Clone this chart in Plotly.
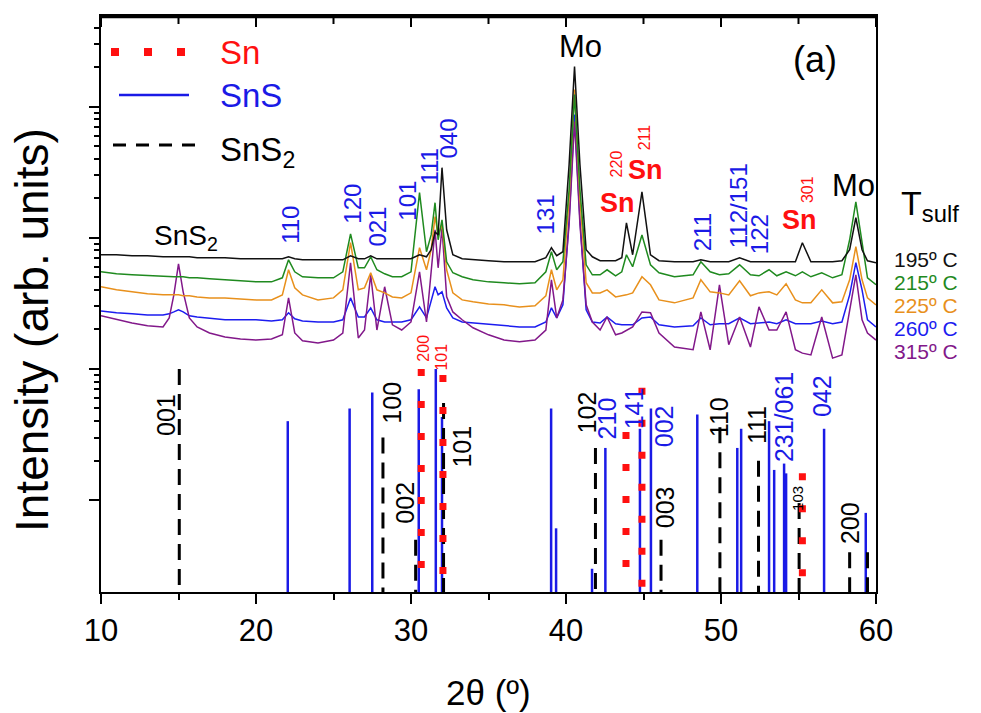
import plotly.graph_objects as go

# ---------------- data ----------------
theta = [10, 11, 12, 13, 14, 14.4, 14.7, 15.0, 15.3, 15.7,
         16.2, 17, 18, 19, 20, 21, 21.7, 22.1, 22.5, 23,
         24, 25, 25.6, 26.1, 26.6, 27.0, 27.4, 27.8, 28.3, 28.8,
         29.4, 30.0, 30.55, 31.0, 31.3, 31.55, 31.75, 32.0, 32.3, 32.7,
         33.3, 34.0, 35, 36, 37, 38, 38.7, 39.06, 39.4, 39.8,
         40.2, 40.55, 40.9, 41.3, 41.7, 42.2, 42.65, 43.2, 43.6, 43.9,
         44.3, 44.9, 45.45, 46.0, 47, 48.2, 48.7, 49.3, 49.9, 50.5,
         51.2, 51.9, 52.45, 53.1, 53.6, 54.2, 54.8, 55.25, 55.8, 56.5,
         57.2, 57.8, 58.3, 58.7, 59.1, 59.45, 60]

I_195 = [74.2, 74.2, 72.9, 72.9, 71.6, 71.6, 71.6, 71.6, 71.6, 71.6,
         70.4, 70.4, 70.4, 69.1, 69.1, 69.1, 69.1, 71.6, 69.1, 67.9,
         67.9, 67.9, 67.9, 72.9, 69.1, 69.1, 72.9, 69.1, 69.1, 69.1,
         69.1, 69.1, 74.2, 71.6, 81.0, 111, 105, 342, 115, 74.2,
         69.1, 67.9, 66.8, 65.6, 65.6, 65.6, 70.4, 83.9, 72.9, 78.2,
         361, 2020, 361, 81.0, 71.6, 66.8, 66.8, 66.8, 70.4, 130,
         74.2, 224, 74.2, 66.8, 65.6, 65.6, 67.9, 65.6, 65.6, 65.6,
         70.4, 65.6, 65.6, 65.6, 65.6, 65.6, 65.6, 91.6, 65.6, 65.6,
         65.6, 66.8, 81.0, 142, 81.0, 66.8, 64.5]

I_215 = [55.0, 53.1, 52.2, 51.3, 50.4, 50.4, 50.4, 50.4, 50.4, 49.5,
         49.5, 48.6, 47.8, 47.0, 46.1, 46.1, 49.5, 67.9, 55.0, 50.4,
         49.5, 49.5, 55.0, 107, 59.0, 59.0, 71.6, 57.0, 53.1, 50.4,
         50.4, 55.0, 221, 78.2, 105, 185, 96.5, 137, 65.6, 54.1,
         50.4, 47.8, 46.1, 45.4, 44.6, 45.4, 55.0, 78.2, 57.0, 65.6,
         232, 1235, 232, 62.2, 52.2, 52.2, 57.0, 51.3, 55.0, 74.2,
         60.1, 105, 62.2, 54.1, 50.4, 52.2, 65.6, 55.0, 52.2, 53.1,
         62.2, 52.2, 51.3, 57.0, 51.3, 55.0, 51.3, 55.0, 50.4, 54.1,
         49.5, 52.2, 96.5, 188, 88.4, 49.5, 43.8]

I_225 = [42.3, 40.1, 38.7, 37.4, 36.7, 36.7, 36.7, 36.7, 36.1, 36.1,
         35.4, 34.8, 34.8, 34.2, 33.6, 33.6, 36.7, 57.0, 41.5, 36.7,
         33.6, 34.8, 40.1, 91.6, 40.1, 41.5, 54.1, 40.1, 38.0, 35.4,
         34.8, 38.0, 83.9, 57.0, 81.0, 145, 105, 126, 57.0, 38.0,
         33.6, 32.5, 31.3, 30.8, 29.7, 30.3, 36.1, 57.0, 40.1, 47.8,
         195, 1348, 195, 45.4, 38.0, 38.0, 40.1, 35.4, 36.1, 36.7,
         38.0, 50.4, 43.8, 33.6, 31.9, 34.8, 47.8, 38.7, 38.0, 36.7,
         47.0, 36.1, 38.0, 38.7, 36.7, 44.6, 33.6, 31.9, 31.9, 40.1,
         31.9, 32.5, 47.8, 85.4, 47.8, 34.8, 30.8]

I_260 = [27.7, 26.8, 26.3, 25.8, 25.8, 26.3, 27.2, 28.2, 27.2, 25.4,
         24.9, 24.5, 23.7, 23.7, 23.7, 23.2, 23.7, 26.8, 24.1, 23.2,
         22.8, 22.8, 23.7, 34.8, 24.9, 24.9, 29.2, 23.7, 22.8, 22.8,
         22.8, 23.7, 29.7, 24.5, 33.6, 42.3, 36.7, 38.7, 29.2, 24.5,
         22.8, 22.4, 21.7, 21.3, 20.9, 20.9, 22.8, 29.2, 24.5, 30.8,
         137, 869, 137, 28.2, 22.8, 22.4, 24.9, 22.1, 21.7, 21.7,
         21.7, 24.5, 24.9, 21.7, 20.9, 21.3, 24.5, 21.7, 22.1, 22.1,
         24.5, 22.1, 22.4, 22.8, 22.1, 23.7, 22.1, 22.1, 22.1, 23.2,
         22.1, 22.8, 36.7, 64.5, 40.1, 23.7, 20.9]

I_315 = [25.4, 23.7, 22.4, 21.3, 20.9, 24.5, 36.7, 63.3, 38.7, 24.5,
         20.9, 18.8, 17.5, 16.9, 16.6, 16.9, 18.2, 34.8, 18.8, 16.4,
         15.8, 16.6, 18.8, 64.5, 17.2, 19.8, 52.2, 19.8, 42.3, 21.7,
         19.8, 22.8, 55.0, 22.8, 57.0, 115, 59.0, 119, 35.4, 27.2,
         23.7, 20.6, 18.2, 16.6, 16.1, 16.6, 19.8, 47.8, 24.5, 33.6,
         126, 768, 126, 30.8, 22.8, 19.8, 24.9, 18.2, 18.8, 19.8,
         20.9, 27.2, 26.8, 18.8, 14.7, 14.0, 27.2, 14.0, 43.8, 15.3,
         24.9, 14.7, 29.7, 19.8, 19.8, 27.2, 14.0, 13.2, 12.8, 24.9,
         12.1, 12.8, 28.2, 52.2, 23.7, 18.8, 16.6]

# reference patterns (position, relative intensity)
SnS_pos = [22.05, 26.04, 27.5, 30.5, 31.6, 32.0, 39.04, 39.36, 41.68, 42.54,
           44.77, 45.48, 48.47, 51.05, 51.3, 53.1, 53.43, 54.07, 54.2, 56.65, 59.34]
SnS_int = [4.0, 5.0, 6.6, 7.0, 10.0, 4.3, 5.0, 0.61, 0.30, 2.5,
           3.5, 5.0, 4.5, 2.5, 3.5, 4.0, 1.7, 1.9, 1.6, 3.5, 0.80]
Sn_pos = [30.66, 32.06, 43.87, 44.9, 55.25]
Sn_int = [10.0, 9.0, 3.3, 7.2, 1.6]
SnS2_pos = [15.05, 28.19, 30.3, 32.1, 41.9, 46.13, 49.93, 52.42, 55.04, 58.3, 59.45]
SnS2_int = [10.0, 3.0, 0.50, 5.5, 2.5, 0.50, 3.6, 2.0, 0.95, 0.40, 0.40]

temps = ["195º C", "215º C", "225º C", "260º C", "315º C"]
series = [I_195, I_215, I_225, I_260, I_315]

x_ticks = [10, 20, 30, 40, 50, 60]

# ---------------- styles ----------------
FONT = "Liberation Sans, Arial, sans-serif"
colors = {"195º C": "#111111", "215º C": "#1f8a1f", "225º C": "#e8901c",
          "260º C": "#1c1cf0", "315º C": "#82188a"}
BLUE = "#1a1ae6"
RED = "#ff1010"

W, H = 981, 713
L, R, T, B = 101, 876, 16, 592


def fy(ypx):
    return (B - ypx) / (B - T)


def fx(xpx):
    return (xpx - L) / (R - L)


fig = go.Figure()

# spectra (drawn order: blue, purple, orange, green, black)
for name in ["260º C", "315º C", "225º C", "215º C", "195º C"]:
    fig.add_trace(go.Scatter(x=theta, y=series[temps.index(name)], mode="lines",
                             line=dict(color=colors[name], width=1.5),
                             showlegend=False, hoverinfo="skip"))


def sticks(pos, inten, base=0.05):
    xs, ys = [], []
    for p, v in zip(pos, inten):
        xs += [p, p, None]
        ys += [v, base, None]
    return xs, ys


xs, ys = sticks(SnS_pos, SnS_int)
fig.add_trace(go.Scatter(x=xs, y=ys, mode="lines", line=dict(color=BLUE, width=2.5),
                         showlegend=False, hoverinfo="skip"))
xs, ys = sticks(SnS2_pos, SnS2_int)
fig.add_trace(go.Scatter(x=xs, y=ys, mode="lines",
                         line=dict(color="black", width=3, dash="16px,9px"),
                         showlegend=False, hoverinfo="skip"))
xs, ys = sticks(Sn_pos, Sn_int)
fig.add_trace(go.Scatter(x=xs, y=ys, mode="lines",
                         line=dict(color=RED, width=7, dash="7px,25px"),
                         showlegend=False, hoverinfo="skip"))

ann = []


def add_text(text, x, ypx, color="black", size=24, angle=0, xref="x",
             xanchor="center", yanchor="middle"):
    ann.append(dict(text=text, x=x, y=fy(ypx), xref=xref, yref="paper",
                    showarrow=False, textangle=angle, xanchor=xanchor,
                    yanchor=yanchor, font=dict(family=FONT, size=size, color=color)))


# peak labels (upper part)
for txt, th, yp in [("110", 22.18, 225), ("120", 26.24, 204), ("021", 27.78, 227),
                    ("101", 29.72, 201), ("111", 31.13, 167), ("040", 32.42, 139),
                    ("131", 38.67, 214), ("211", 48.79, 232), ("112/151", 51.11, 206),
                    ("122", 52.46, 234)]:
    add_text(txt, th, yp, BLUE, 24, -90)

add_text("Mo", 40.93, 46, "black", 31)
add_text("Mo", 58.58, 185, "black", 31)
add_text("SnS<sub>2</sub>", 13.29, 238, "black", 28, xanchor="left")
add_text("<b>Sn</b>", 43.31, 203, RED, 27)
add_text("<b>Sn</b>", 45.12, 170, RED, 27)
add_text("<b>Sn</b>", 55.04, 220, RED, 27)
for txt, th, yp in [("220", 43.25, 164), ("211", 45.05, 137), ("301", 55.55, 190),
                    ("200", 30.75, 348), ("101", 31.91, 357)]:
    add_text(txt, th, yp, RED, 16, -90)

# reference pattern labels
for txt, th, yp, col in [("001", 14.19, 415, "black"), ("100", 28.75, 403, "black"),
                         ("002", 29.59, 503, "black"), ("101", 33.26, 447, "black"),
                         ("102", 41.38, 412, "black"), ("210", 42.67, 418, BLUE),
                         ("141", 44.41, 408, BLUE), ("002", 46.34, 426, BLUE),
                         ("003", 46.4, 507, "black"), ("110", 49.88, 417, "black"),
                         ("111", 52.33, 425, "black"), ("231/061", 54.07, 417, BLUE),
                         ("042", 56.52, 396, BLUE), ("200", 58.33, 523, "black")]:
    add_text(txt, th, yp, col, 25, -90)
add_text("103", 54.9, 498, "black", 15, -90)

add_text("(a)", fx(815), 60, "black", 36, xref="paper")

# legend (manual)
add_text("Sn", fx(218), 52, RED, 33, xref="paper", xanchor="left")
add_text("SnS", fx(218), 95, BLUE, 33, xref="paper", xanchor="left")
add_text("SnS<sub>2</sub>", fx(218), 152, "black", 33, xref="paper", xanchor="left")
shapes = [
    dict(type="line", xref="paper", yref="paper", x0=fx(111), x1=fx(190), y0=fy(52), y1=fy(52),
         line=dict(color=RED, width=8, dash="8px,25px")),
    dict(type="line", xref="paper", yref="paper", x0=fx(119), x1=fx(189), y0=fy(95), y1=fy(95),
         line=dict(color=BLUE, width=2.5)),
    dict(type="line", xref="paper", yref="paper", x0=fx(113), x1=fx(201), y0=fy(145), y1=fy(145),
         line=dict(color="black", width=3, dash="13px,10px")),
    # plot frame (top edge), drawn just inside the plot area
    dict(type="line", xref="paper", yref="paper", x0=0, x1=1, y0=fy(T + 1), y1=fy(T + 1),
         line=dict(color="black", width=2.5), layer="above"),
]
# inward ticks on the top edge of the frame
for v in range(10, 61, 5):
    shapes.append(dict(type="line", xref="x", yref="paper", x0=v, x1=v, y0=fy(T + 1),
                       y1=fy(T + (11 if v % 10 == 0 else 8)),
                       line=dict(color="black", width=2), layer="above"))

# temperature labels
add_text("T<sub>sulf</sub>", fx(899), 205, "black", 34, xref="paper", xanchor="left")
for i, t in enumerate(temps):
    add_text(t, fx(892), 259 + 23 * i, colors[t], 21, xref="paper", xanchor="left")

# axis titles
add_text("2θ (º)", fx(488), 692, "black", 35, xref="paper")
add_text("Intensity (arb. units)", fx(32), 330, "black", 46, -90, xref="paper")

fig.update_layout(
    width=W, height=H,
    margin=dict(l=L, r=W - R, t=T, b=H - B, pad=0),
    paper_bgcolor="white", plot_bgcolor="white",
    showlegend=False,
    font=dict(family=FONT, color="black"),
    annotations=ann, shapes=shapes,
    xaxis=dict(range=[10, 60], tickmode="array", tickvals=x_ticks,
               ticks="outside", ticklen=10, tickwidth=2, tickcolor="black",
               minor=dict(tickmode="linear", tick0=15, dtick=10, ticks="outside",
                          ticklen=6, tickwidth=2, tickcolor="black", showgrid=False),
               showline=True, linewidth=2, linecolor="black", mirror=True,
               showgrid=False, zeroline=False,
               tickfont=dict(family=FONT, size=31, color="black")),
    yaxis=dict(type="log", range=[-0.70, 3.69], tickmode="array",
               tickvals=[1, 10, 100, 1000], ticks="outside", ticklen=10, tickwidth=2,
               tickcolor="black", showticklabels=False,
               minor=dict(tickmode="array",
                          tickvals=[2, 3, 4, 5, 6, 7, 8, 9, 20, 30, 40, 50, 60, 70, 80, 90,
                                    200, 300, 400, 500, 600, 700, 800, 900, 2000, 3000, 4000],
                          ticks="outside", ticklen=5, tickwidth=2, tickcolor="black",
                          showgrid=False),
               showline=True, linewidth=2, linecolor="black", mirror=True,
               showgrid=False, zeroline=False),
)

fig.write_html("out.html")
